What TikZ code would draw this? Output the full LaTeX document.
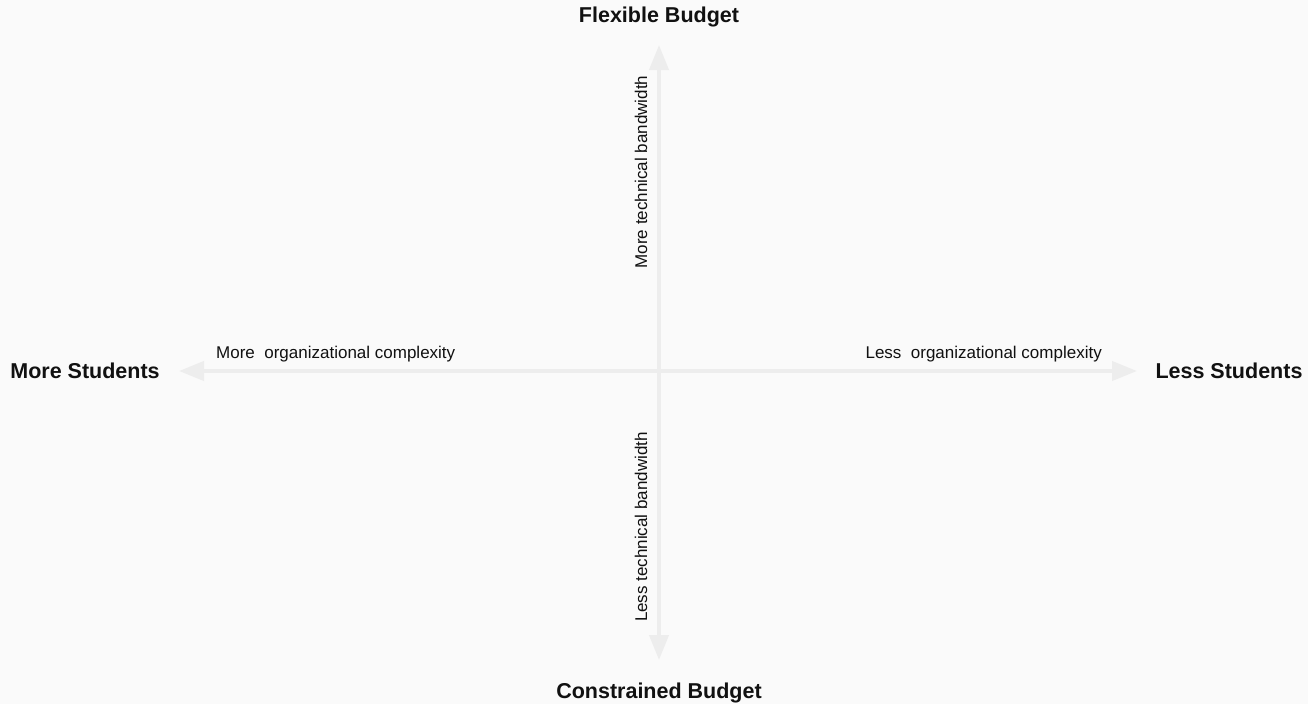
\documentclass[tikz,border=0pt]{standalone}
\usepackage{fontspec}
\setmainfont{Liberation Sans}
\usetikzlibrary{arrows.meta}
\definecolor{axisgray}{HTML}{EDEDED}
\definecolor{paper}{HTML}{FAFAFA}
\definecolor{ink}{HTML}{111111}
\tikzset{
  axis/.style={draw=axisgray, line width=4pt, -{Triangle[length=25pt, width=19pt]}},
  pole/.style={text=ink, inner sep=0pt, font=\bfseries\fontsize{21.5}{24}\selectfont},
  hint/.style={text=ink, inner sep=0pt, font=\fontsize{17}{20}\selectfont},
}
\begin{document}
\begin{tikzpicture}[x=1pt, y=-1pt]
  \fill [paper] (0, 0) rectangle (1308, 704);
  \useasboundingbox (0, 0) rectangle (1308, 704);
  % axes
  \coordinate (o) at (659, 371);
  \coordinate (n) at (659, 45);
  \coordinate (s) at (659, 660);
  \coordinate (w) at (179, 371);
  \coordinate (e) at (1137, 371);
  \draw [axis] (o) -- (n);
  \draw [axis] (o) -- (s);
  \draw [axis] (o) -- (w);
  \draw [axis] (o) -- (e);
  % poles
  \node [pole, anchor=base] (flexible) at (659, 23) {Flexible Budget};
  \node [pole, anchor=base] (constrained) at (659, 698) {Constrained Budget};
  \node [pole] (more) at (85, 371) {More Students};
  \node [pole] (less) at (1229, 371) {Less Students};
  % hints
  \node [hint, anchor=base west] (moreorg) at (216, 358) {More\ \ organizational complexity};
  \node [hint, anchor=base east] (lessorg) at (1102, 358) {Less\ \ organizational complexity};
  \node [hint, rotate=90, anchor=base] (moretech) at (647, 172) {More technical bandwidth};
  \node [hint, rotate=90, anchor=base] (lesstech) at (647, 527) {Less technical bandwidth};
\end{tikzpicture}
\end{document}
